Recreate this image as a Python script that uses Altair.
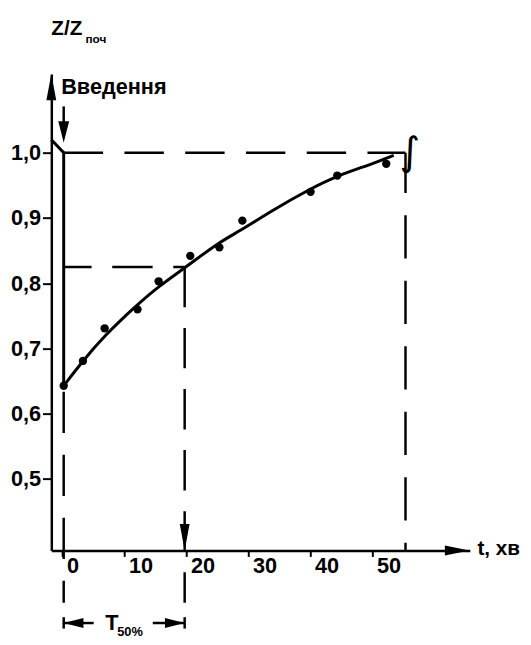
import altair as alt
import pandas as pd

curve_t = [0.2, 3.3, 6.6, 11.9, 15.6, 19.8, 25.1, 28.6, 33.9, 40.0, 44.4, 49.7, 53.4]
curve_v = [0.643, 0.681, 0.718, 0.766, 0.796, 0.824, 0.862, 0.880, 0.912, 0.945, 0.965, 0.982, 0.996]
dots_t = [0.2, 3.3, 6.8, 12.1, 15.5, 20.6, 25.3, 29.0, 40.0, 44.3, 52.2]
dots_v = [0.643, 0.681, 0.731, 0.760, 0.803, 0.842, 0.855, 0.896, 0.940, 0.965, 0.983]
x_ticks = [0, 10, 20, 30, 40, 50]
y_ticks = [0.5, 0.6, 0.7, 0.8, 0.9, 1.0]

# key annotation values
t_intro = 0.2      # moment of introduction
t_half = 19.7      # T50%
t_end = 55.3       # end of observation
z_start = 0.643
z_half = 0.825
z_full = 1.0

x_domain = [-1.794, 65.67]
y_domain = [0.3906, 1.1207]

FONT = "Liberation Sans"

xs = alt.Scale(domain=x_domain, nice=False, zero=False)
ys = alt.Scale(domain=y_domain, nice=False, zero=False)
x_axis = alt.Axis(values=x_ticks, title=None, grid=False, domain=True, domainColor="black",
                  domainWidth=2.5, ticks=True, tickColor="black", tickWidth=2, tickSize=6,
                  labelAlign="left", labelBaseline="top", labelOffset=4, labelPadding=-1,
                  labelFont=FONT, labelFontSize=22, labelFontWeight="bold", labelColor="black",
                  labelFlush=False, labelOverlap=False, format="d")
y_axis = alt.Axis(values=y_ticks, title=None, grid=False, domain=True, domainColor="black",
                  domainWidth=2.5, ticks=True, tickColor="black", tickWidth=2, tickSize=9,
                  labelPadding=2, labelFont=FONT, labelFontSize=22, labelFontWeight="bold",
                  labelColor="black", labelFlush=False, labelOverlap=False,
                  labelExpr="replace(format(datum.value, '.1f'), '.', ',')")

X = alt.X("t:Q", scale=xs, axis=x_axis)
Y = alt.Y("v:Q", scale=ys, axis=y_axis)

curve_df = pd.DataFrame({"t": curve_t, "v": curve_v})
dots_df = pd.DataFrame({"t": dots_t, "v": dots_v})

curve = alt.Chart(curve_df).mark_line(color="black", strokeWidth=3, interpolate="basis").encode(x=X, y=Y)
dots = alt.Chart(dots_df).mark_point(filled=True, color="black", size=72, opacity=1,
                                     shape="circle").encode(x=X, y=Y)

drop_df = pd.DataFrame({"t": [x_domain[0], t_intro, t_intro],
                        "v": [1.02, z_full, z_start], "o": [0, 1, 2]})
drop = alt.Chart(drop_df).mark_line(color="black", strokeWidth=3).encode(
    x=X, y=Y, order=alt.Order("o:Q"))


def rule(rows, width=2.5, dash=None, offset=0):
    kw = dict(color="black", strokeWidth=width)
    if dash is not None:
        kw["strokeDash"] = dash
        kw["strokeDashOffset"] = offset
    df = pd.DataFrame(rows, columns=["t", "t2", "v", "v2"])
    return alt.Chart(df).mark_rule(**kw).encode(
        x=X, x2=alt.X2("t2:Q"), y=Y, y2=alt.Y2("v2:Q"))


h_full = rule([[t_intro, t_end, z_full, z_full]], dash=[40, 21.7], offset=0)
h_half = rule([[t_intro, t_half, z_half, z_half]], dash=[41, 21], offset=12.7)
v_zero = rule([[t_intro, t_intro, z_start, 0.3107]], dash=[42, 22], offset=58)
v_half = rule([[t_half, t_half, z_half, 0.3107]], dash=[41, 21], offset=0)
v_end = rule([[t_end, t_end, z_full, y_domain[0]]], dash=[44, 22.5], offset=3)

solid = rule([
    [t_intro, t_intro, 1.0709, 1.0422],    # introduction arrow shaft
    [t_intro, t_intro, 0.2885, 0.2710],    # T50 left bar
    [t_half, t_half, 0.2885, 0.2710],      # T50 right bar
    [t_intro, 5.03, 0.2795, 0.2795],       # T50 left shaft
    [14.56, t_half, 0.2795, 0.2795],       # T50 right shaft
])

heads_df = pd.DataFrame({
    "t": [63.63, x_domain[0], t_intro, t_half, 1.79, 18.11],
    "v": [y_domain[0], 1.1006, 1.0317, 0.411, 0.2795, 0.2795],
    "shape": ["M1,0L-1,-0.4L-1,0.4Z", "M0,-1L-0.375,1L0.375,1Z", "M0,1L-0.5,-1L0.5,-1Z",
              "M0,1L-0.37,-1L0.37,-1Z", "M-1,0L1,-0.5L1,0.5Z", "M1,0L-1,-0.5L-1,0.5Z"],
    "size": [625, 713, 484, 729, 400, 400],
})
heads = alt.Chart(heads_df).mark_point(filled=True, color="black", opacity=1).encode(
    x=X, y=Y, shape=alt.Shape("shape:N", scale=None), size=alt.Size("size:Q", scale=None))

text_df = pd.DataFrame({
    "t": [-1.79, 3.7, -0.2, 66.9, 6.9, 8.83],
    "v": [1.181, 1.1685, 1.0905, 0.3831, 0.2685, 0.2595],
    "label": ["Z/Z", "поч", "Введення", "t, хв", "T", "50%"],
    "fs": [21, 12, 22, 21, 22, 13],
})
texts = alt.Chart(text_df).mark_text(align="left", baseline="alphabetic", font=FONT,
                                     fontWeight="bold", color="black").encode(
    x=X, y=Y, text="label:N", size=alt.Size("fs:Q", scale=None))

squig_df = pd.DataFrame({"t": [56.0], "v": [z_full], "label": ["∫"]})
squig = alt.Chart(squig_df).mark_text(align="center", baseline="middle", font="DejaVu Sans",
                                      fontSize=40, color="black").encode(x=X, y=Y, text="label:N")

chart = alt.layer(v_zero, v_half, v_end, h_full, h_half, drop, solid, curve, dots, heads,
                  texts, squig).properties(
    width=425, height=484,
    padding={"left": 44, "top": 62, "right": 54, "bottom": 90},
    autosize=alt.AutoSizeParams(type="none"),
    background="white",
).configure_view(stroke=None)

chart.save("out.html", embed_options={"renderer": "svg", "actions": False})
